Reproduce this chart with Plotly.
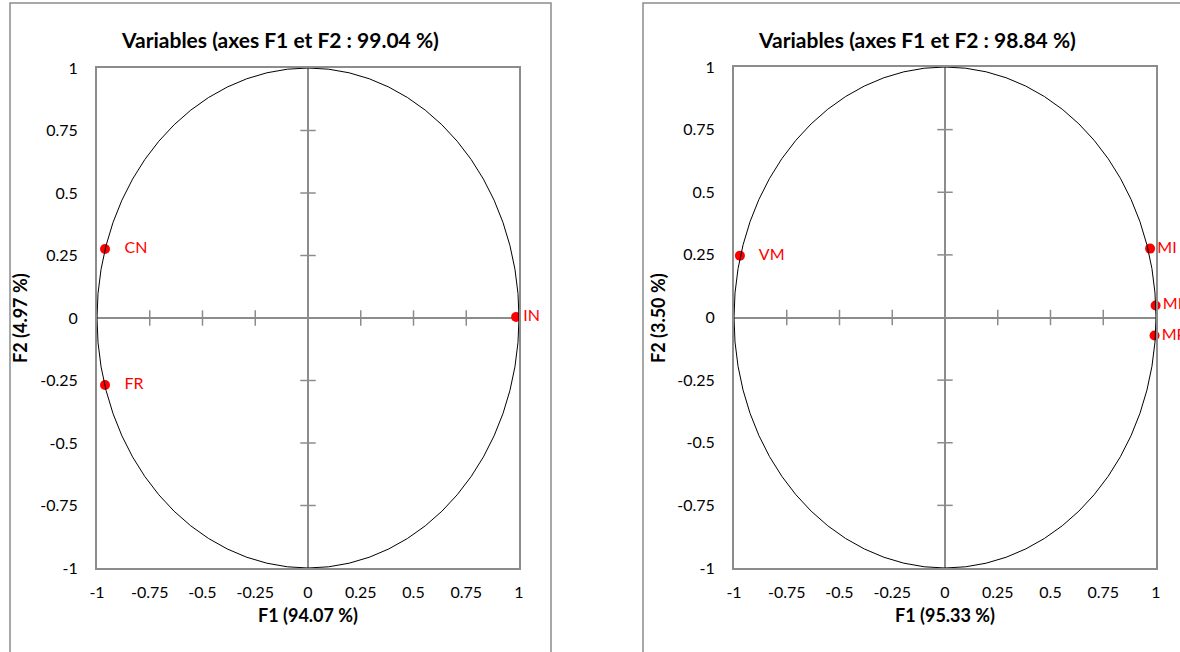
import plotly.graph_objects as go

# ---- data ----
left_labels = ["CN", "FR", "IN"]
left_f1 = [-0.962, -0.962, 0.986]
left_f2 = [0.276, -0.268, 0.004]

right_labels = ["VM", "MI", "MH", "MP"]
right_f1 = [-0.972, 0.972, 0.998, 0.993]
right_f2 = [0.247, 0.275, 0.048, -0.072]

tick_vals = [-1, -0.75, -0.5, -0.25, 0, 0.25, 0.5, 0.75, 1]
tick_text = ["-1", "-0.75", "-0.5", "-0.25", "0", "0.25", "0.5", "0.75", "1"]
minor_ticks = [-0.75, -0.5, -0.25, 0.25, 0.5, 0.75]

left_title = "Variables (axes F1 et F2 : 99.04 %)"
left_xtitle = "F1 (94.07 %)"
left_ytitle = "F2 (4.97 %)"
right_title = "Variables (axes F1 et F2 : 98.84 %)"
right_xtitle = "F1 (95.33 %)"
right_ytitle = "F2 (3.50 %)"

W, H = 1180, 652
FONT = "Lato"
GRAY = "#8c8c8c"
RED = "#ff0000"

fig = go.Figure()

panels = [
    dict(xa="x", ya="y", labels=left_labels, f1=left_f1, f2=left_f2,
         xdom=(97, 519), ydom=(68, 568), box=(10, 551), title=left_title,
         xt=left_xtitle, yt=left_ytitle, ytx=20, tx=280),
    dict(xa="x2", ya="y2", labels=right_labels, f1=right_f1, f2=right_f2,
         xdom=(734, 1156), ydom=(67, 568), box=(643, 1200), title=right_title,
         xt=right_xtitle, yt=right_ytitle, ytx=658, tx=917),
]

shapes = []
annotations = []
for i, p in enumerate(panels):
    sfx = "" if i == 0 else "2"
    # tick crosses on zero lines
    fig.add_trace(go.Scatter(x=minor_ticks, y=[0] * len(minor_ticks), mode="markers",
                             marker=dict(symbol="line-ns", size=11,
                                         line=dict(color=GRAY, width=1.5)),
                             xaxis=p["xa"], yaxis=p["ya"], hoverinfo="skip",
                             showlegend=False, cliponaxis=False))
    fig.add_trace(go.Scatter(x=[0] * len(minor_ticks), y=minor_ticks, mode="markers",
                             marker=dict(symbol="line-ew", size=11,
                                         line=dict(color=GRAY, width=1.5)),
                             xaxis=p["xa"], yaxis=p["ya"], hoverinfo="skip",
                             showlegend=False, cliponaxis=False))
    # points
    fig.add_trace(go.Scatter(x=p["f1"], y=p["f2"], mode="markers+text",
                             text=["   " + t if x < 0 else t for t, x in zip(p["labels"], p["f1"])],
                             textposition="middle right",
                             textfont=dict(color=RED, size=16, family=FONT),
                             marker=dict(color=RED, size=10),
                             xaxis=p["xa"], yaxis=p["ya"], showlegend=False,
                             cliponaxis=False))
    # unit circle
    shapes.append(dict(type="circle", xref=p["xa"], yref=p["ya"], x0=-1, y0=-1, x1=1, y1=1,
                       line=dict(color="black", width=1), layer="above"))
    # panel frame
    shapes.append(dict(type="rect", xref="paper", yref="paper",
                       x0=p["box"][0] / W, x1=p["box"][1] / W, y0=-0.05, y1=1 - 3 / H,
                       line=dict(color=GRAY, width=1.5)))
    xcen = (p["xdom"][0] + p["xdom"][1]) / 2 / W
    annotations.append(dict(text="<b>" + p["title"] + "</b>", xref="paper", yref="paper",
                            x=p["tx"] / W, y=1 - 40 / H, showarrow=False,
                            xanchor="center", yanchor="middle",
                            font=dict(size=21, family=FONT, color="black")))
    annotations.append(dict(text="<b>" + p["xt"] + "</b>", xref="paper", yref="paper",
                            x=xcen, y=1 - 615 / H, showarrow=False,
                            xanchor="center", yanchor="middle",
                            font=dict(size=18, family=FONT, color="black")))
    annotations.append(dict(text="<b>" + p["yt"] + "</b>", xref="paper", yref="paper",
                            x=p["ytx"] / W, y=1 - 318 / H, showarrow=False, textangle=-90,
                            xanchor="center", yanchor="middle",
                            font=dict(size=18, family=FONT, color="black")))
    axis_common = dict(range=[-1, 1], tickvals=tick_vals, ticktext=tick_text,
                       showgrid=False, zeroline=True, zerolinecolor=GRAY, zerolinewidth=2,
                       showline=True, linecolor=GRAY, linewidth=2, mirror=True,
                       ticks="", tickfont=dict(size=16, family=FONT, color="black"),
                       fixedrange=True, automargin=False)
    fig.update_layout(**{
        "xaxis" + sfx: dict(axis_common, domain=[p["xdom"][0] / W, p["xdom"][1] / W],
                            anchor=p["ya"], ticklabelstandoff=9),
        "yaxis" + sfx: dict(axis_common, domain=[1 - p["ydom"][1] / H, 1 - p["ydom"][0] / H],
                            anchor=p["xa"], ticklabelstandoff=14),
    })

fig.update_layout(width=W, height=H, margin=dict(l=0, r=0, t=0, b=0, autoexpand=False),
                  paper_bgcolor="white", plot_bgcolor="white",
                  shapes=shapes, annotations=annotations, showlegend=False,
                  font=dict(family=FONT))

fig.write_html("out.html", config={"displayModeBar": False},
               post_script="document.body.style.margin='0px';")
